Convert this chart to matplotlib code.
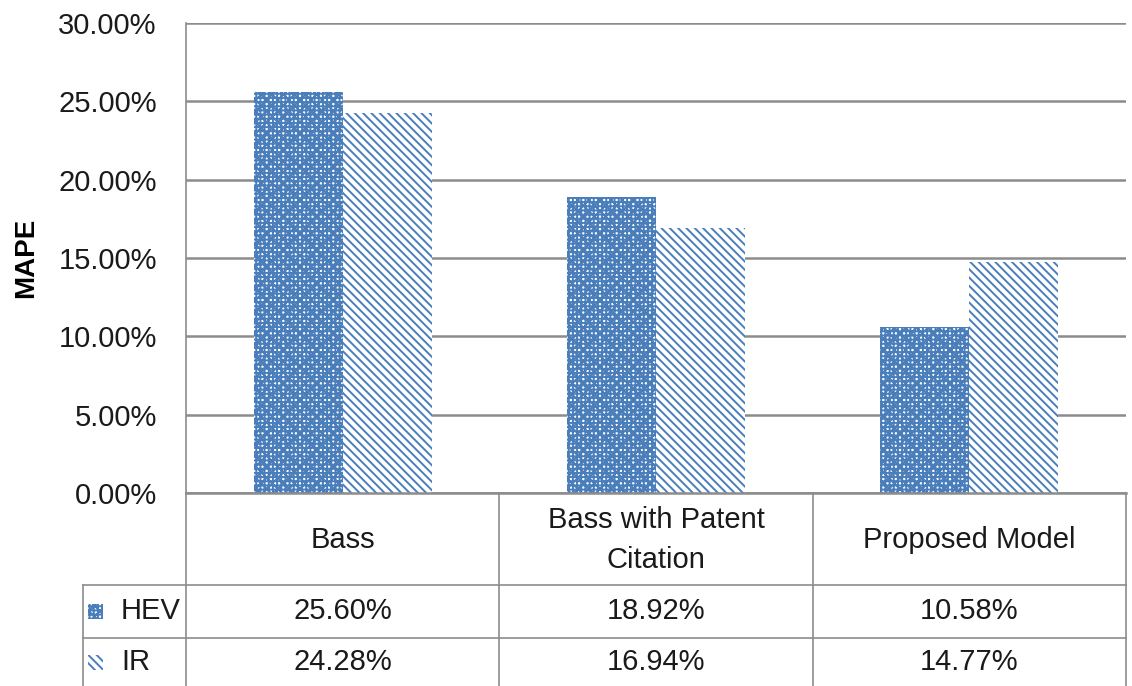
import matplotlib
matplotlib.use("Agg")
import matplotlib.pyplot as plt
from matplotlib.patches import Rectangle
from matplotlib.lines import Line2D
from matplotlib.ticker import FuncFormatter
import numpy as np

# ---- data ----
categories = ["Bass", "Bass with Patent\nCitation", "Proposed Model"]
series_names = ["HEV", "IR"]
hev_values = [25.60, 18.92, 10.58]
ir_values = [24.28, 16.94, 14.77]
y_ticks = [0, 5, 10, 15, 20, 25, 30]

BLUE = "#4A7EBB"
GRID = "#8C8C8C"
HATCHES = ["++++xxx", "\\\\\\\\"]

W, H = 1132, 686
plt.rcParams["font.family"] = ["Liberation Sans", "DejaVu Sans"]
plt.rcParams["hatch.linewidth"] = 1.4

fig = plt.figure(figsize=(W / 100, H / 100), dpi=100)
fig.patch.set_facecolor("white")

# plot area in pixel terms
left_px, right_px, top_px, bottom_px = 186, 1126, 23, 493
ax = fig.add_axes([left_px / W, 1 - bottom_px / H,
                   (right_px - left_px) / W, (bottom_px - top_px) / H])

x = np.arange(len(categories))
bw = 89 / 313
series_values = [hev_values, ir_values]
for i, vals in enumerate(series_values):
    offs = -bw if i == 0 else 0
    ax.bar(x + offs, vals, width=bw, align="edge", facecolor="white",
           edgecolor=BLUE, linewidth=0, hatch=HATCHES[i], zorder=3)

FS = 21
ax.set_xlim(-0.5, len(categories) - 0.5)
ax.set_ylim(0, 30)
ax.set_yticks(y_ticks)
ax.yaxis.set_major_formatter(FuncFormatter(lambda v, p: f"{v:.2f}%"))
ax.tick_params(axis="y", length=0, pad=21, labelsize=FS, colors="#1a1a1a")
ax.tick_params(axis="x", length=0, labelbottom=False)
ax.grid(axis="y", color=GRID, linewidth=1.8, zorder=0)
for s in ["top", "right", "bottom"]:
    ax.spines[s].set_visible(False)
ax.spines["left"].set_color(GRID)
ax.spines["left"].set_linewidth(1.2)
ax.set_ylabel("MAPE", fontsize=20, fontweight="bold")
ax.yaxis.set_label_coords(-(left_px - 39) / (right_px - left_px), 0.5)


def px(xp, yp):
    return xp / W, 1 - yp / H


def hline(y, x0, x1, lw=1.2):
    a, b = px(x0, y)
    c, d = px(x1, y)
    fig.add_artist(Line2D([a, c], [b, d], color=GRID, linewidth=lw))


def vline(xp, y0, y1, lw=1.2):
    a, b = px(xp, y0)
    c, d = px(xp, y1)
    fig.add_artist(Line2D([a, c], [b, d], color=GRID, linewidth=lw))


# ---- data table below the axis ----
col_edges = [186, 499, 813, 1126]
row_edges = [493, 585, 638, 691]
table_left = 83

hline(row_edges[0], col_edges[0], col_edges[-1], lw=1.8)
hline(row_edges[1], table_left, col_edges[-1])
hline(row_edges[2], table_left, col_edges[-1])
for c in col_edges:
    vline(c, row_edges[0], H)
vline(table_left, row_edges[1], H)

txt_kw = dict(fontsize=FS, color="#1a1a1a", ha="center", va="center")
for j, cat in enumerate(categories):
    cx = (col_edges[j] + col_edges[j + 1]) / 2
    cy = (row_edges[0] + row_edges[1]) / 2 + 1
    fig.text(*px(cx, cy), cat, linespacing=1.5, **txt_kw)

row_centers = [611, 662]
for i, (name, vals) in enumerate(zip(series_names, series_values)):
    cy = row_centers[i]
    # legend key
    kx, ky = px(88, cy + 8)
    fig.add_artist(Rectangle((kx, ky), 15 / W, 15 / H, transform=fig.transFigure,
                             facecolor="white", edgecolor=BLUE, linewidth=0,
                             hatch=HATCHES[i]))
    fig.text(*px(121, cy), name, fontsize=FS, color="#1a1a1a",
             ha="left", va="center")
    for j, v in enumerate(vals):
        cx = (col_edges[j] + col_edges[j + 1]) / 2
        fig.text(*px(cx, cy), f"{v:.2f}%", **txt_kw)

fig.savefig("out.png", dpi=100, facecolor="white")
